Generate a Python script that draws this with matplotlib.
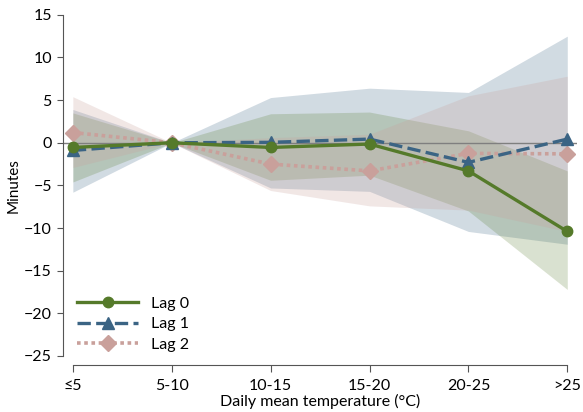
import matplotlib
matplotlib.use("Agg")
import matplotlib.pyplot as plt

plt.rcParams['font.family'] = ['Lato', 'DejaVu Sans']

categories = ['≤5', '5-10', '10-15', '15-20', '20-25', '>25']

lag0 = [-0.55, 0, -0.55, -0.15, -3.3, -10.4]
lag0_lo = [-4.6, 0, -4.4, -3.8, -8.0, -17.2]
lag0_hi = [3.5, 0, 3.4, 3.6, 1.4, -3.3]

lag1 = [-0.9, 0, 0.05, 0.43, -2.3, 0.43]
lag1_lo = [-5.8, 0, -5.3, -5.7, -10.4, -11.9]
lag1_hi = [3.9, 0, 5.3, 6.4, 5.9, 12.5]

lag2 = [1.2, 0, -2.5, -3.3, -1.25, -1.3]
lag2_lo = [-2.9, 0, -5.6, -7.4, -7.9, -10.4]
lag2_hi = [5.4, 0, 0.6, 1.0, 5.5, 7.8]

green = '#557a2a'
blue = '#3b6484'
pink = '#c9a09b'

x = list(range(len(categories)))

fig = plt.figure(figsize=(5.83, 4.12), dpi=100)
ax = fig.add_axes([0.108, 0.136, 0.882, 0.828])

# intervalles de confiance
ax.fill_between(x, lag1_lo, lag1_hi, color=blue, alpha=0.23, linewidth=0)
ax.fill_between(x, lag0_lo, lag0_hi, color=green, alpha=0.22, linewidth=0)
ax.fill_between(x, lag2_lo, lag2_hi, color=pink, alpha=0.25, linewidth=0)

ax.axhline(0, color='#7f7f7f', linewidth=1.0, zorder=2)

ax.plot(x, lag2, color=pink, linestyle=(0, (1, 1)), linewidth=2.6,
        marker='D', markersize=8, label='Lag 2', zorder=3)
ax.plot(x, lag1, color=blue, linestyle=(0, (4, 1.6)), linewidth=2.4,
        marker='^', markersize=8.5, label='Lag 1', zorder=4)
ax.plot(x, lag0, color=green, linestyle='-', linewidth=2.4,
        marker='o', markersize=7.5, label='Lag 0', zorder=5)

ax.set_xlim(-0.1, 5.1)
ax.set_ylim(-25, 15)
ax.set_xticks(x)
ax.set_xticklabels(categories)
ax.set_yticks(range(-25, 16, 5))

for s in ['top', 'right']:
    ax.spines[s].set_visible(False)
ax.spines['bottom'].set_position(('outward', 6.5))
ax.spines['bottom'].set_bounds(0, 5)
ax.spines['left'].set_color('#555555')
ax.spines['bottom'].set_color('#555555')
ax.tick_params(axis='both', labelsize=11.5, color='#555555', length=4.5)
ax.tick_params(axis='x', length=5, pad=5)

ax.set_xlabel('Daily mean temperature (°C)', fontsize=11.5, labelpad=1)
ax.set_ylabel('Minutes', fontsize=11)
ax.yaxis.set_label_coords(-0.083, 0.5)

handles, labels = ax.get_legend_handles_labels()
ax.legend(handles[::-1], labels[::-1], loc='lower left', bbox_to_anchor=(0.0, -0.03),
          frameon=False, fontsize=11.5, handlelength=3.8, labelspacing=0.4)

fig.savefig('out.png', dpi=100)
